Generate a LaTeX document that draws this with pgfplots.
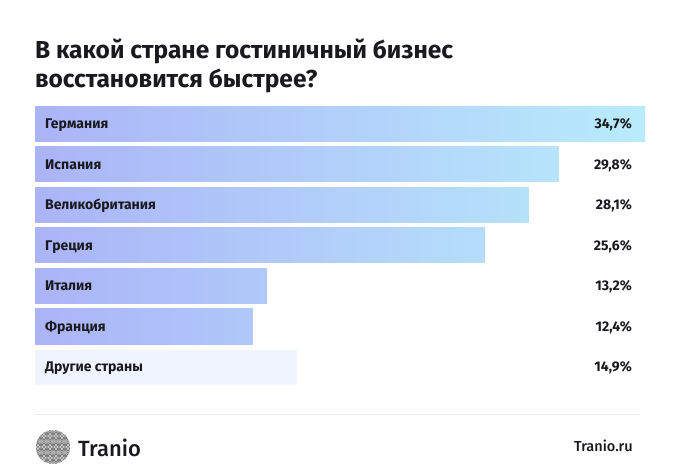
\documentclass[border=0pt]{standalone}
\usepackage{fontspec}
\setmainfont{Fira Sans}[BoldFont=* Bold]
\newfontfamily\firamed{Fira Sans}[UprightFont=* Medium]
\usepackage{pgfplots}
\pgfplotsset{compat=1.18}
\definecolor{cA}{RGB}{171,180,248}
\definecolor{cB}{RGB}{184,236,252}
\definecolor{cO}{RGB}{239,244,254}
\definecolor{txt}{RGB}{25,25,30}
\definecolor{sep}{RGB}{236,236,240}
\begin{document}
\begin{tikzpicture}[x=1pt,y=1pt]
\useasboundingbox (0,0) rectangle (693,476);
\fill[white] (0,0) rectangle (693,476);
% title
\node[anchor=base west,inner sep=0,text=txt,font=\fontsize{24.5}{27}\selectfont\bfseries] at (35,417) {В какой стране гостиничный бизнес};
\node[anchor=base west,inner sep=0,text=txt,font=\fontsize{24.5}{27}\selectfont\bfseries] at (35,388.5) {восстановится быстрее?};
\begin{axis}[
  at={(35pt,88.75pt)}, anchor=south west,
  scale only axis, width=610pt, height=283.5pt,
  xmin=0, xmax=34.7, ymin=-0.5, ymax=6.5, y dir=reverse,
  hide axis, clip=false,
  xbar, bar width=35pt, bar shift=0pt,
]
\addplot[draw=none, left color=cA, right color=cB!100!cA] coordinates {(34.7,0)};
\addplot[draw=none, left color=cA, right color=cB!86!cA] coordinates {(29.8,1)};
\addplot[draw=none, left color=cA, right color=cB!81!cA] coordinates {(28.1,2)};
\addplot[draw=none, left color=cA, right color=cB!74!cA] coordinates {(25.6,3)};
\addplot[draw=none, left color=cA, right color=cB!38!cA] coordinates {(13.2,4)};
\addplot[draw=none, left color=cA, right color=cB!36!cA] coordinates {(12.4,5)};
\addplot[draw=none, fill=cO] coordinates {(14.9,6)};
\begin{scope}[every node/.style={inner sep=0,text=txt,font=\fontsize{14}{16}\selectfont\bfseries}]
\node[anchor=base west,xshift=10pt,yshift=-4.8pt] at (axis cs:0,0) {Германия};
\node[anchor=base west,xshift=10pt,yshift=-4.8pt] at (axis cs:0,1) {Испания};
\node[anchor=base west,xshift=10pt,yshift=-4.8pt] at (axis cs:0,2) {Великобритания};
\node[anchor=base west,xshift=10pt,yshift=-4.8pt] at (axis cs:0,3) {Греция};
\node[anchor=base west,xshift=10pt,yshift=-4.8pt] at (axis cs:0,4) {Италия};
\node[anchor=base west,xshift=10pt,yshift=-4.8pt] at (axis cs:0,5) {Франция};
\node[anchor=base west,xshift=10pt,yshift=-4.8pt] at (axis cs:0,6) {Другие страны};
\node[anchor=base east,xshift=-13pt,yshift=-4.8pt] at (axis cs:34.7,0) {34,7\%};
\node[anchor=base east,xshift=-13pt,yshift=-4.8pt] at (axis cs:34.7,1) {29,8\%};
\node[anchor=base east,xshift=-13pt,yshift=-4.8pt] at (axis cs:34.7,2) {28,1\%};
\node[anchor=base east,xshift=-13pt,yshift=-4.8pt] at (axis cs:34.7,3) {25,6\%};
\node[anchor=base east,xshift=-13pt,yshift=-4.8pt] at (axis cs:34.7,4) {13,2\%};
\node[anchor=base east,xshift=-13pt,yshift=-4.8pt] at (axis cs:34.7,5) {12,4\%};
\node[anchor=base east,xshift=-13pt,yshift=-4.8pt] at (axis cs:34.7,6) {14,9\%};
\end{scope}
\end{axis}
% separator
\draw[sep,line width=1pt] (35,61) -- (640,61);
% logo
\begin{scope}
\clip (53,29) circle (17);
\foreach \i in {-3,...,3} {
  \foreach \j in {-3,...,3} {
    \pgfmathsetmacro{\cx}{53+6*\i+3*mod(\j+3,2)}
    \pgfmathsetmacro{\cy}{29+5.5*\j}
    \foreach \r in {1.1,2.2,3.3} {\draw[black!65,line width=0.42pt] (\cx,\cy) circle (\r);}
  }
}
\end{scope}
\node[anchor=base west,inner sep=0,text=txt,font=\firamed\fontsize{22}{24}\selectfont] at (78,19.5) {Tranio};
\node[anchor=base east,inner sep=0,text=txt,font=\firamed\fontsize{14.5}{17}\selectfont] at (633,24) {Tranio.ru};
\end{tikzpicture}
\end{document}
